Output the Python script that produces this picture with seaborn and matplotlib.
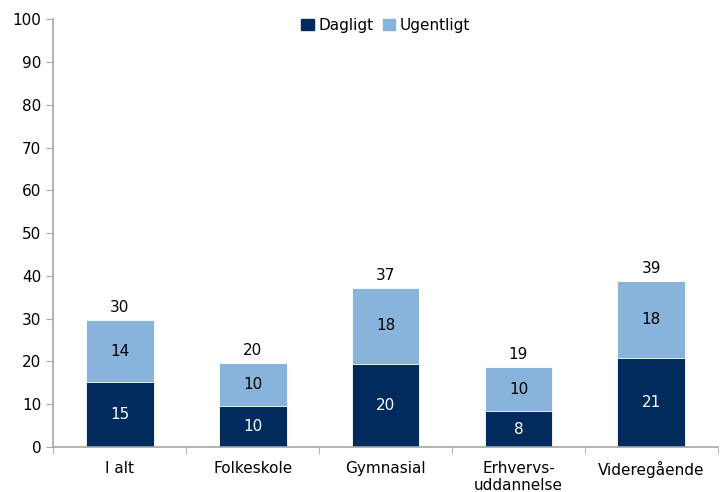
import pandas as pd
import matplotlib.pyplot as plt
import seaborn as sns
from matplotlib.patches import Patch

# data
kategorier = ["I alt", "Folkeskole", "Gymnasial", "Erhvervs-\nuddannelse", "Videregående"]
dagligt = [15.2, 9.5, 19.5, 8.4, 20.8]
ugentligt = [14.4, 10.2, 17.6, 10.2, 17.9]

morkebla = "#002B5C"
lysebla = "#88B4DC"

df = pd.DataFrame({"kategori": kategorier, "Dagligt": dagligt, "Ugentligt": ugentligt})
df["total"] = df["Dagligt"] + df["Ugentligt"]

sns.set_style("white")
plt.rcParams["font.family"] = ["DejaVu Sans"]
plt.rcParams["text.color"] = "black"

fig = plt.figure(figsize=(7.2, 4.92), dpi=100)
ax = fig.add_axes([0.074, 0.0915, 0.923, 0.8695])

# stablede søjler: total i lyseblå, dagligt ovenpå i mørkeblå
sns.barplot(data=df, x="kategori", y="total", color=lysebla, width=0.51,
            edgecolor="white", linewidth=0.6, saturation=1, ax=ax)
sns.barplot(data=df, x="kategori", y="Dagligt", color=morkebla, width=0.51,
            edgecolor="white", linewidth=0.6, saturation=1, ax=ax)

for i, row in df.iterrows():
    ax.text(i, row["Dagligt"] / 2, f"{round(row['Dagligt']):d}", ha="center", va="center",
            color="white", fontsize=11)
    ax.text(i, row["Dagligt"] + row["Ugentligt"] / 2, f"{round(row['Ugentligt']):d}",
            ha="center", va="center", color="black", fontsize=11)
    ax.text(i, row["total"] + 1.2, f"{round(row['total']):d}", ha="center", va="bottom",
            color="black", fontsize=11)

ax.set_ylim(0, 100)
ax.set_xlim(-0.5, len(kategorier) - 0.5)
ax.set_yticks(range(0, 101, 10))
ax.set_xlabel("")
ax.set_ylabel("")
ax.tick_params(axis="y", labelsize=11, length=5, color="#A6A6A6", left=True, labelcolor="black")
ax.tick_params(axis="x", labelsize=11, length=0, pad=10, labelcolor="black")

# x-tick streger mellem kategorierne
ax.set_xticks([i - 0.5 for i in range(len(kategorier) + 1)], minor=True)
ax.tick_params(axis="x", which="minor", length=5, color="#A6A6A6", bottom=True)

for s in ["top", "right"]:
    ax.spines[s].set_visible(False)
for s in ["left", "bottom"]:
    ax.spines[s].set_color("#A6A6A6")
    ax.spines[s].set_linewidth(1.2)

handles = [Patch(color=morkebla, label="Dagligt"), Patch(color=lysebla, label="Ugentligt")]
ax.legend(handles=handles, loc="upper center", bbox_to_anchor=(0.5, 1.035), ncol=2,
          frameon=False, fontsize=11, handlelength=0.8, handleheight=0.8,
          handletextpad=0.3, columnspacing=0.6)

fig.savefig("out.png", dpi=100)
